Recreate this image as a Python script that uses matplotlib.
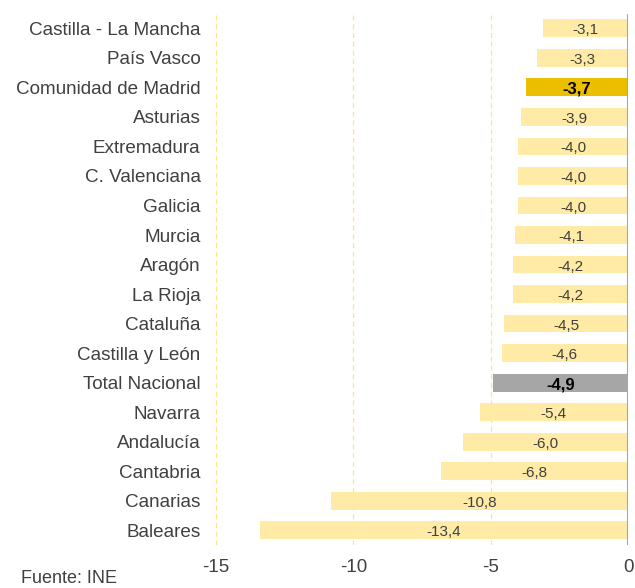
import matplotlib

matplotlib.use("Agg")
import matplotlib.pyplot as plt

regions = [
    "Castilla - La Mancha", "País Vasco", "Comunidad de Madrid", "Asturias",
    "Extremadura", "C. Valenciana", "Galicia", "Murcia", "Aragón", "La Rioja",
    "Cataluña", "Castilla y León", "Total Nacional", "Navarra", "Andalucía",
    "Cantabria", "Canarias", "Baleares",
]
values = [-3.1, -3.3, -3.7, -3.9, -4.0, -4.0, -4.0, -4.1, -4.2, -4.2,
          -4.5, -4.6, -4.9, -5.4, -6.0, -6.8, -10.8, -13.4]
x_ticks = [-15, -10, -5, 0]

plt.rcParams["font.family"] = ["Liberation Sans", "DejaVu Sans"]
TEXT = "#404040"

colors = []
for r in regions:
    if r == "Comunidad de Madrid":
        colors.append("#EBBF00")
    elif r == "Total Nacional":
        colors.append("#A6A6A6")
    else:
        colors.append("#FFEBA5")

fig = plt.figure(figsize=(6.35, 5.88), dpi=100)
ax = fig.add_axes([0.340, 0.073, 0.649, 0.904])

ypos = list(range(len(regions)))
ax.barh(ypos, values, height=0.6, color=colors, zorder=2)

for y, v, r in zip(ypos, values, regions):
    label = f"{v:.1f}".replace(".", ",")
    bold = r in ("Comunidad de Madrid", "Total Nacional")
    ax.text(v / 2, y + 0.07, label, ha="center", va="center",
            fontsize=12 if bold else 11,
            fontweight="bold" if bold else "normal",
            color="black" if bold else TEXT, zorder=3)

ax.set_xlim(-15, 0)
ax.set_ylim(len(regions) - 0.5, -0.5)
ax.set_yticks(ypos, regions)
ax.set_xticks(x_ticks, [str(t) for t in x_ticks])
ax.tick_params(axis="both", length=0, colors=TEXT)
ax.tick_params(axis="y", labelsize=13.6, pad=11)
ax.tick_params(axis="x", labelsize=13.5, pad=10)

for t in x_ticks[:-1]:
    ax.axvline(t, color="#FFE48A", linestyle=(0, (4, 3)), linewidth=0.9, zorder=1)
ax.axvline(0, color="#A6A6A6", linewidth=1.5, zorder=3)

for s in ax.spines.values():
    s.set_visible(False)

fig.text(0.033, 0.002, "Fuente: INE", fontsize=13, color=TEXT, ha="left", va="bottom")

fig.savefig("out.png", dpi=100)
